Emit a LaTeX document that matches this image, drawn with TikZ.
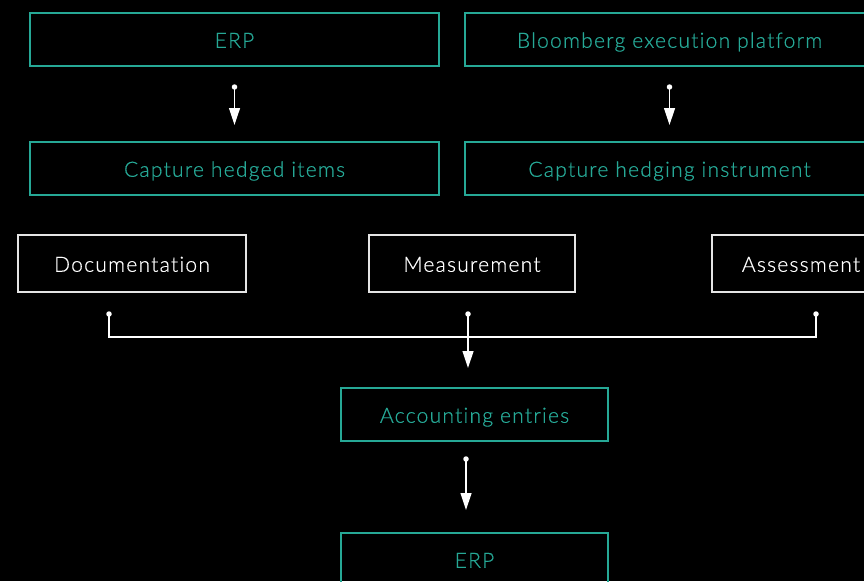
\documentclass[tikz,border=0pt]{standalone}
\usepackage{fontspec}
\setmainfont{Lato Light}[Ligatures=NoCommon, LetterSpace=6, FakeBold=0.6]
\usetikzlibrary{arrows.meta}
\definecolor{teal1}{RGB}{38,168,150}
\definecolor{bg}{RGB}{0,0,0}
\tikzset{
  boxtext/.style={font=\fontsize{21}{25}\selectfont, text height=16.5pt, text depth=0pt},
  tealbox/.style={boxtext, draw=teal1, line width=1.1pt, text=teal1, minimum height=53pt, inner sep=0pt},
  whitebox/.style={boxtext, draw=white!90!black, line width=1.1pt, text=white, minimum height=57pt, inner sep=0pt},
  conn/.style={draw=white, line width=1.2pt},
  flow/.style={conn, -{Triangle[width=11pt,length=17pt]}, shorten >=0pt},
  dot/.style={circle, fill=white, inner sep=0pt, minimum size=5.5pt},
}
\begin{document}
\begin{tikzpicture}[x=1pt,y=-1pt]
\fill[bg] (0,0) rectangle (864,581);
\useasboundingbox (0,0) rectangle (864,581);
\clip (0,0) rectangle (864,581);
% teal boxes
\node[tealbox, minimum width=409pt] (erp1) at (234.5,39.5) {ERP};
\node[tealbox, minimum width=409pt] (bbg) at (669.5,39.5) {Bloomberg execution platform};
\node[tealbox, minimum width=409pt] (items) at (234.5,168.5) {Capture hedged items};
\node[tealbox, minimum width=409pt] (instr) at (669.5,168.5) {Capture hedging instrument};
% white boxes
\node[whitebox, minimum width=228pt] (doc) at (132,263.5) {Documentation};
\node[whitebox, minimum width=206pt] (meas) at (472,263.5) {Measurement};
\node[whitebox, minimum width=178pt] (assess) at (801,263.5) {Assessment};
% lower teal boxes
\node[tealbox, minimum width=267pt] (acct) at (474.5,414.5) {Accounting entries};
\node[tealbox, minimum width=267pt] (erp2) at (474.5,559.5) {ERP};
% connector coordinates
\node[dot] (d1) at (234.5,87) {};
\coordinate (a1) at (234.5,125);
\node[dot] (d2) at (669.5,87) {};
\coordinate (a2) at (669.5,125);
\node[dot] (d3) at (109,314) {};
\node[dot] (d4) at (468,314) {};
\node[dot] (d5) at (816,314) {};
\coordinate (h1) at (109,337);
\coordinate (h2) at (816,337);
\coordinate (a3) at (468,368);
\node[dot] (d6) at (466,459) {};
\coordinate (a4) at (466,510);
\draw[flow] (d1.center) -- (a1);
\draw[flow] (d2.center) -- (a2);
\draw[conn] (d3.center) -- (h1) -- (h2) -- (d5.center);
\draw[flow] (d4.center) -- (a3);
\draw[flow] (d6.center) -- (a4);
\end{tikzpicture}
\end{document}
